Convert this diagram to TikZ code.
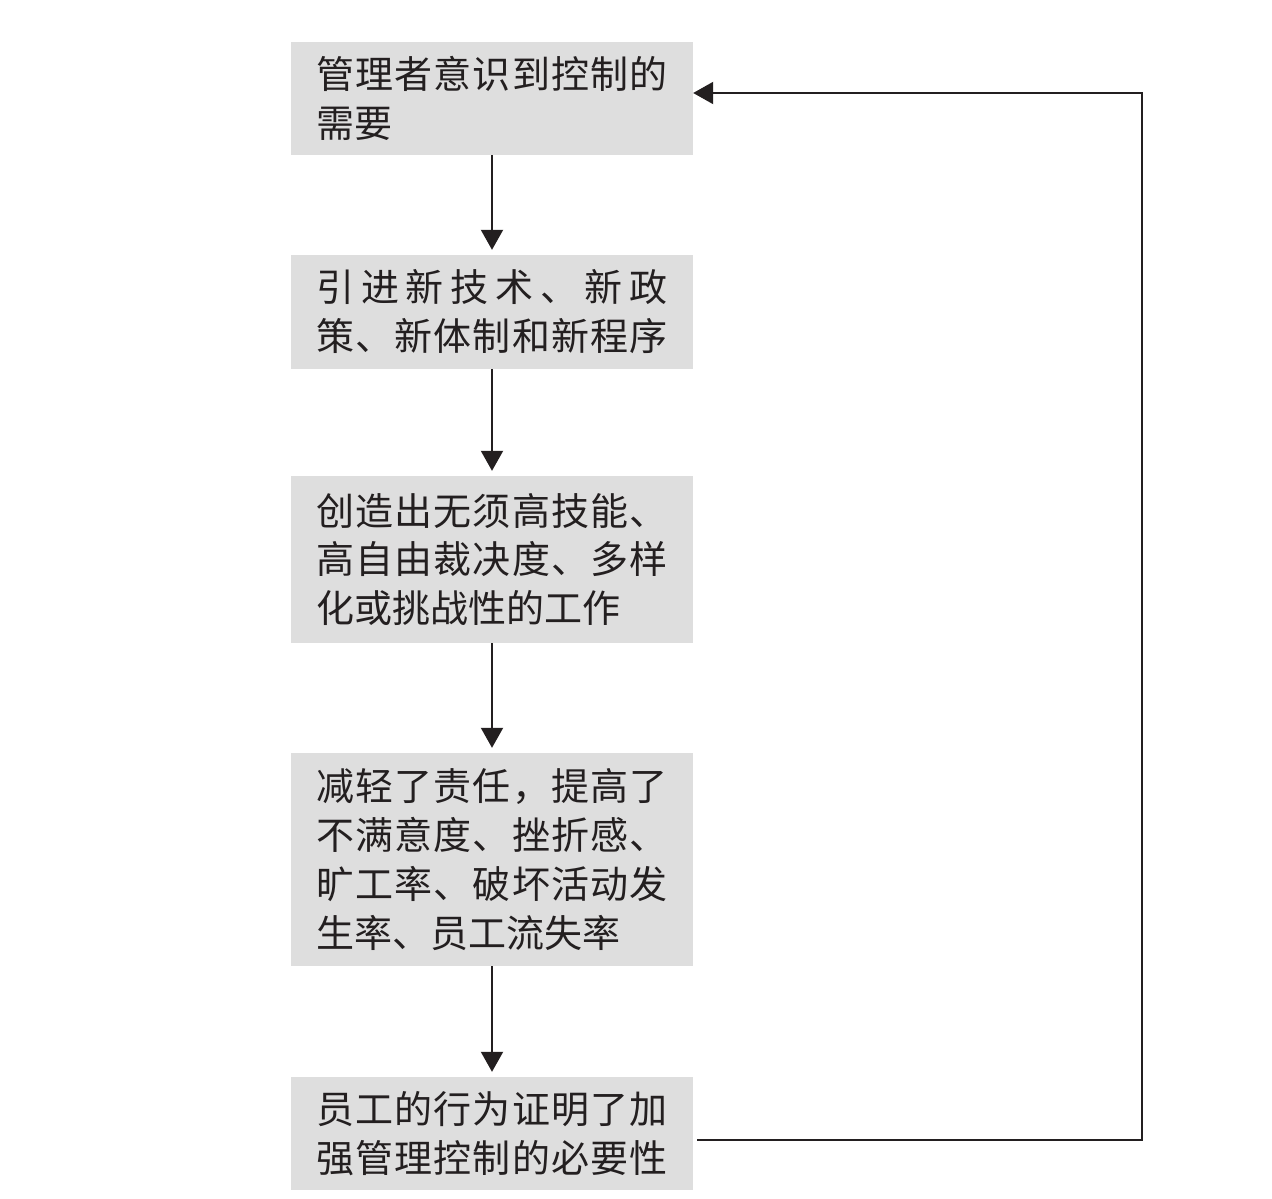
\documentclass[tikz,border=0pt]{standalone}
\usepackage{fontspec}
\newfontfamily\cjk{Noto Sans CJK SC}
\usetikzlibrary{arrows.meta}
\definecolor{boxgray}{HTML}{DEDEDE}
\definecolor{ink}{HTML}{231F20}
\ExplSyntaxOn
\NewDocumentCommand\fullline{m}{\makebox[351pt][s]{\tl_map_inline:nn{#1}{##1\hfil}\unskip}}
\ExplSyntaxOff
\tikzset{
  flowbox/.style={fill=boxgray, draw=none, minimum width=402pt, inner xsep=25.5pt, inner ysep=0pt,
    text width=351pt, align=left, text=ink, font=\cjk\fontsize{38}{49}\selectfont},
  flowarrow/.style={draw=ink, line width=2pt, -{Triangle[width=22pt,length=20pt]}},
}
\begin{document}
\begin{tikzpicture}[x=1pt,y=-1pt]
\useasboundingbox (0,0) rectangle (1272,1199);
\node[flowbox, minimum height=113pt] (b1) at (492,98.5) {\fullline{管理者意识到控制的}\\需要};
\node[flowbox, minimum height=114pt] (b2) at (492,312) {\fullline{引进新技术、新政}\\\fullline{策、新体制和新程序}};
\node[flowbox, minimum height=167pt, font=\cjk\fontsize{38}{48.5}\selectfont] (b3) at (492,559.5) {\fullline{创造出无须高技能、}\\\fullline{高自由裁决度、多样}\\化或挑战性的工作};
\node[flowbox, minimum height=213pt] (b4) at (492,859.5) {\fullline{减轻了责任，提高了}\\\fullline{不满意度、挫折感、}\\\fullline{旷工率、破坏活动发}\\生率、员工流失率};
\node[flowbox, minimum height=113pt] (b5) at (492,1133.5) {\fullline{员工的行为证明了加}\\\fullline{强管理控制的必要性}};
\draw[flowarrow, shorten >=5pt] (b1.south) -- (b2.north);
\draw[flowarrow, shorten >=5pt] (b2.south) -- (b3.north);
\draw[flowarrow, shorten >=5pt] (b3.south) -- (b4.north);
\draw[flowarrow, shorten >=5pt] (b4.south) -- (b5.north);
\coordinate (s5) at (697,1140);
\coordinate (c1) at (1142,1140);
\coordinate (c2) at (1142,93);
\draw[flowarrow] (s5) -- (c1) -- (c2) -- (b1.east |- c2);
\end{tikzpicture}
\end{document}
